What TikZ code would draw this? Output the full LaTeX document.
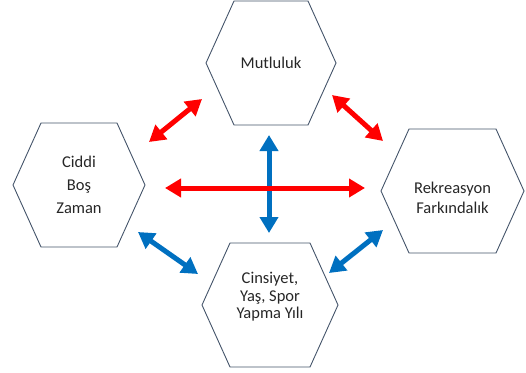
\documentclass[tikz,border=0pt]{standalone}
\usepackage{fontspec}
\setmainfont{Carlito}
\usepackage{xcolor}
\usetikzlibrary{arrows.meta,calc}
\definecolor{hexline}{RGB}{68,84,106}
\definecolor{arrred}{RGB}{255,0,0}
\definecolor{arrblue}{RGB}{0,112,192}
\tikzset{>=latex}
\tikzset{hexa/.style={minimum height=124pt,inner sep=0pt,outer sep=0pt}}
\tikzset{label text/.style={align=center,font=\fontsize{16.5}{#1}\selectfont,text=black!85}}
\tikzset{redarr/.style={draw=arrred,line width=5pt,{Triangle[length=16pt,width=18pt]}-{Triangle[length=16pt,width=18pt]}}}
\tikzset{bluearr/.style={draw=arrblue,line width=5pt,{Triangle[length=16pt,width=18pt]}-{Triangle[length=16pt,width=18pt]}}}
\def\hexborder#1{\draw[hexline,line width=0.9pt] ([xshift=28pt]#1.north west) -- ([xshift=-28pt]#1.north east) -- (#1.east) -- ([xshift=-28pt]#1.south east) -- ([xshift=28pt]#1.south west) -- (#1.west) -- cycle;}

\begin{document}
\begin{tikzpicture}[x=1pt,y=-1pt]
  \useasboundingbox (0,0) rectangle (526,372);
  % Hexagons
  \node[hexa,minimum width=130pt] (hextop) at (271,63) {};
  \node[hexa,minimum width=132pt] (hexleft) at (79,185) {};
  \node[hexa,minimum width=143pt] (hexright) at (452.5,191) {};
  \node[hexa,minimum width=136pt] (hexbot) at (270,305) {};
  \hexborder{hextop}
  \hexborder{hexleft}
  \hexborder{hexright}
  \hexborder{hexbot}

  % Labels
  \node[label text=20pt] (mutluluk) at (hextop) {Mutluluk};
  \node[label text=23pt] (ciddi) at (hexleft) {Ciddi\\Boş\\Zaman};
  \node[label text=20pt] (rekreasyon) at ($(hexright)+(0,7)$) {Rekreasyon\\Farkındalık};
  \node[label text=17.5pt] (cinsiyet) at ($(hexbot)+(0,-8)$) {Cinsiyet,\\Yaş, Spor\\Yapma Yılı};

  % Arrow ends
  \coordinate (tl1) at (202,99);
  \coordinate (tl2) at (149,142);
  \coordinate (tr1) at (332,95);
  \coordinate (tr2) at (383,141);
  \coordinate (mid1) at (165,188);
  \coordinate (mid2) at (365,188);
  \coordinate (up1) at (269,135);
  \coordinate (up2) at (269,233);
  \coordinate (bl1) at (138,232);
  \coordinate (bl2) at (198,274);
  \coordinate (br1) at (383,230);
  \coordinate (br2) at (329,273);

  % Arrows
  \draw[redarr] (tl1) -- (tl2);
  \draw[redarr] (tr1) -- (tr2);
  \draw[bluearr] (up1) -- (up2);
  \draw[redarr] (mid1) -- (mid2);
  \draw[bluearr] (bl1) -- (bl2);
  \draw[bluearr] (br1) -- (br2);
\end{tikzpicture}
\end{document}
